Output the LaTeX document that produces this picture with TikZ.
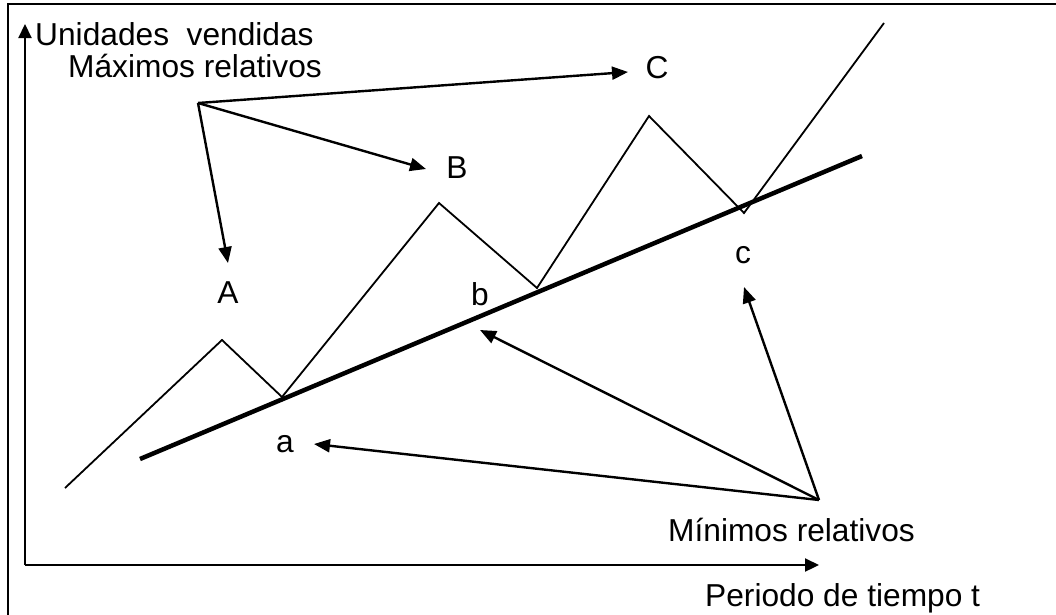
\documentclass[tikz,border=0pt]{standalone}
\usepackage{fontspec}
\setmainfont{Liberation Sans}
\usetikzlibrary{arrows.meta}
\begin{document}
\begin{tikzpicture}[x=1pt,y=-1pt,
  lbl/.style={inner sep=0pt,font=\fontsize{31.7}{36}\selectfont},
  ptr/.style={line width=2.4pt,-{Triangle[length=16pt,width=13pt]}},
  axis/.style={line width=2.2pt,-{Triangle[length=14pt,width=13pt]}},
  zig/.style={line width=1.8pt,line join=miter},
  trend/.style={line width=4.5pt}]
\useasboundingbox (0,0) rectangle (1056,614);
\clip (0,0) rectangle (1056,614);
\fill[white] (0,0) rectangle (1056,614);
% frame
\draw[line width=2.2pt] (8,640) -- (8,4) -- (1070,4);
% axes
\coordinate (O) at (25,565);
\coordinate (Ytip) at (25,24);
\coordinate (Xtip) at (819,565);
\draw[axis] (O) -- (Ytip);
\draw[axis] (O) -- (Xtip);
% labels
\node[lbl,anchor=base west] (ylab) at (35,45) {Unidades\ \ vendidas};
\node[lbl,anchor=base west] (maxlab) at (68,77) {Máximos relativos};
\node[lbl,anchor=base west] (minlab) at (668,541) {Mínimos relativos};
\node[lbl,anchor=base west] (xlab) at (705,606) {Periodo de tiempo t};
\node[lbl,anchor=base] (C) at (657,78) {C};
\node[lbl,anchor=base] (B) at (457,178) {B};
\node[lbl,anchor=base] (A) at (228,303) {A};
\node[lbl,anchor=base] (b) at (480,305) {b};
\node[lbl,anchor=base] (c) at (743,263) {c};
\node[lbl,anchor=base] (a) at (285,452) {a};
% price zigzag
\draw[zig] (65,488) -- (222,340) -- (282,397) -- (439,203) -- (537,288)
  -- (649,116) -- (744,213) -- (884,23);
% trend line
\coordinate (T1) at (140,459);
\coordinate (T2) at (862,156);
\draw[trend] (T1) -- (T2);
% arrows from Maximos
\coordinate (Mx) at (198,103);
\coordinate (tA) at (228,263);
\coordinate (tB) at (426,169);
\coordinate (tC) at (628,72);
\draw[ptr] (Mx) -- (tA);
\draw[ptr] (Mx) -- (tB);
\draw[ptr] (Mx) -- (tC);
% arrows from Minimos
\coordinate (Mn) at (819,500);
\coordinate (ta) at (314,444);
\coordinate (tb) at (480,330);
\coordinate (tc) at (744,287);
\draw[ptr] (Mn) -- (ta);
\draw[ptr] (Mn) -- (tb);
\draw[ptr] (Mn) -- (tc);
\end{tikzpicture}
\end{document}
